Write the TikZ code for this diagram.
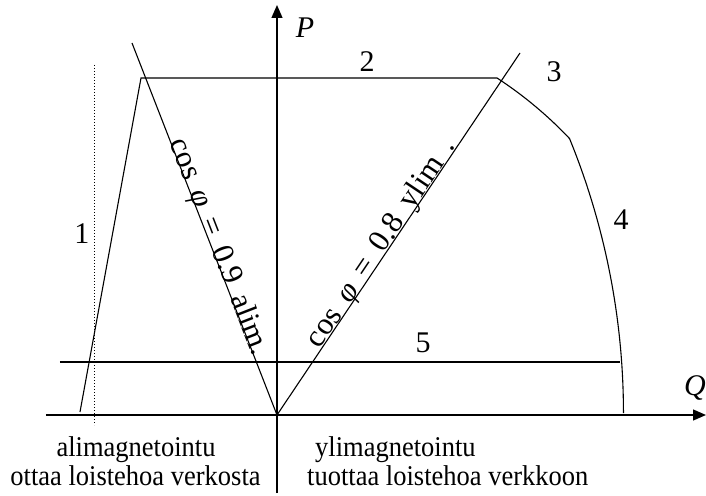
\documentclass[tikz,border=0pt]{standalone}
\usepackage{fontspec}
\setmainfont{Liberation Serif}
\usetikzlibrary{arrows.meta}
\newcommand{\gsp}{\hspace{0.42em}}
\begin{document}
\begin{tikzpicture}[x=1pt,y=1pt,
  axis/.style={line width=1.3pt,-{Triangle[length=13pt,width=11pt]}},
  curve/.style={line width=1.1pt},
  lbl/.style={font=\fontsize{30}{34}\selectfont,inner sep=0pt},
  btxt/.style={font=\fontsize{26.5}{30}\selectfont,inner sep=0pt,yscale=1.08},
  rlbl/.style={font=\fontsize{31}{34}\selectfont,inner sep=0pt,anchor=base}]
\useasboundingbox (-277,-80) rectangle (429,415);
% key points
\coordinate (O) at (0,0);
\coordinate (vb) at (0,-78);
\coordinate (vt) at (0,410);
\coordinate (hl) at (-231,0);
\coordinate (hr) at (429,0);
\coordinate (dt) at (-182,350);
\coordinate (db) at (-182,-10);
\coordinate (a1) at (-197,3);
\coordinate (a2) at (-136,337);
\coordinate (a3) at (220,337);
\coordinate (l5a) at (-217,53);
\coordinate (l5b) at (343,53);
\coordinate (t9) at (-145,372);
\coordinate (t8) at (243,362);
% axes
\draw[axis] (vb) -- (vt);
\draw[axis] (hl) -- (hr);
% dotted line
\draw[line width=1pt,dotted] (dt) -- (db);
% boundary curve 1-2-3-4
\draw[curve] (a1) -- (a2) -- (a3)
  arc[start angle=56.9,end angle=43.4,radius=402]
  arc[start angle=22.2,end angle=0,radius=727];
% line 5
\draw[curve] (l5a) -- (l5b);
% power factor lines
\draw[curve] (O) -- (t9) node[rlbl,pos=0.445,sloped,yshift=-1pt] {cos\gsp{\itshape φ}\gsp=\gsp0.9\gsp alim.};
\draw[curve] (O) -- (t8) node[rlbl,pos=0.46,sloped,yshift=1pt] {cos\gsp{\itshape φ}\gsp=\gsp0.8\gsp ylim\gsp.};
% labels
\node[lbl,anchor=base] (P) at (28,377) {\itshape P};
\node[lbl,anchor=base] (Q) at (418,20) {\itshape Q};
\node[lbl,anchor=base] (n1) at (-195,171) {1};
\node[lbl,anchor=base] (n2) at (90,343) {2};
\node[lbl,anchor=base] (n3) at (277,333) {3};
\node[lbl,anchor=base] (n4) at (344,185) {4};
\node[lbl,anchor=base] (n5) at (146,62) {5};
\node[btxt,anchor=base] (t1) at (-141,-41) {alimagnetointu};
\node[btxt,anchor=base] (t2) at (-141.5,-70) {ottaa loistehoa verkosta};
\node[btxt,anchor=base west] (t3) at (38,-41) {ylimagnetointu};
\node[btxt,anchor=base west] (t4) at (30,-70) {tuottaa loistehoa verkkoon};
\end{tikzpicture}
\end{document}
